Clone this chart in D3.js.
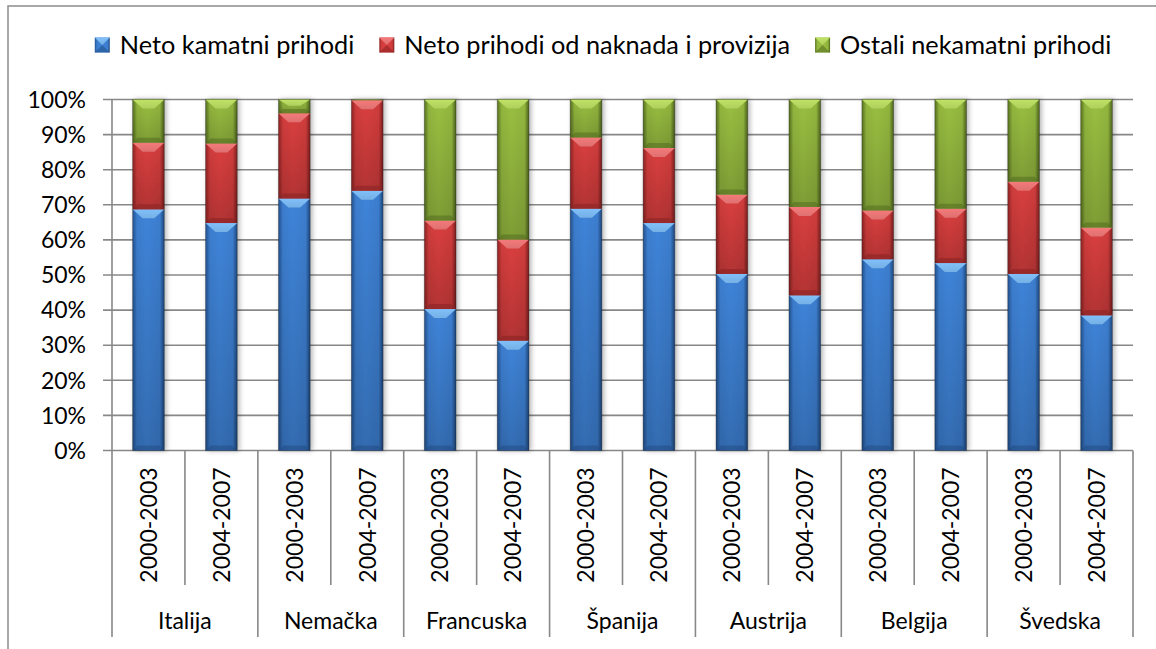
<!DOCTYPE html>
<html>
<head>
<meta charset="utf-8">
<script src="https://cdn.jsdelivr.net/npm/d3@7"></script>
<style>
  body { margin: 0; background: #fff; }
  svg text { font-family: Lato, "Open Sans", sans-serif; fill: #000; }
</style>
</head>
<body>
<div id="chart"></div>
<script>
// data (percent shares)
var countries = ["Italija", "Nemačka", "Francuska", "Španija", "Austrija", "Belgija", "Švedska"];
var periods = ["2000-2003", "2004-2007"];
var seriesNames = ["Neto kamatni prihodi", "Neto prihodi od naknada i provizija", "Ostali nekamatni prihodi"];
var netoKamatni = [68.7, 64.8, 71.8, 74.0, 40.3, 31.3, 68.9, 64.8, 50.3, 44.2, 54.5, 53.4, 50.3, 38.5];
var naknade     = [19.0, 22.7, 24.3, 25.8, 25.2, 28.8, 20.3, 21.4, 22.6, 25.2, 13.9, 15.5, 26.3, 25.0];
var ostali      = [12.3, 12.5, 3.9, 0.2, 34.5, 39.9, 10.8, 13.8, 27.1, 30.6, 31.6, 31.1, 23.4, 36.5];
var yTicks = [0, 0.1, 0.2, 0.3, 0.4, 0.5, 0.6, 0.7, 0.8, 0.9, 1];

var W = 1156, H = 649;
var plotLeft = 112, plotRight = 1133, plotTop = 99.5, plotBottom = 450.5;
var axisFont = 23, legendFont = 25.3;

// colour sets: edge, mid, light (bevel)
var palette = [
    {edge: "#22508c", mid: "#3c7dce", hi: "#80c0fa", key: "b"},
    {edge: "#8e2323", mid: "#d03c3c", hi: "#f47a7a", key: "r"},
    {edge: "#56701f", mid: "#92b63e", hi: "#bfe266", key: "g"}
];

// build rows for d3.stack
var rows = [];
countries.forEach(function(c, ci) {
    periods.forEach(function(p, pi) {
        var i = ci * 2 + pi;
        rows.push({id: c + "|" + p, country: c, period: p, s0: netoKamatni[i], s1: naknade[i], s2: ostali[i]});
    });
});
var stacked = d3.stack().keys(["s0", "s1", "s2"]).offset(d3.stackOffsetExpand)(rows);

var svg = d3.select("#chart").append("svg")
    .attr("width", W).attr("height", H);

var defs = svg.append("defs");
palette.forEach(function(c) {
    var g = defs.append("linearGradient").attr("id", "body-" + c.key)
        .attr("x1", 0).attr("x2", 1).attr("y1", 0).attr("y2", 0);
    g.append("stop").attr("offset", "0%").attr("stop-color", c.edge);
    g.append("stop").attr("offset", "14%").attr("stop-color", c.mid);
    g.append("stop").attr("offset", "45%").attr("stop-color", d3.color(c.mid).brighter(0.15));
    g.append("stop").attr("offset", "86%").attr("stop-color", c.mid);
    g.append("stop").attr("offset", "100%").attr("stop-color", d3.color(c.edge).darker(0.4));
    var t = defs.append("linearGradient").attr("id", "top-" + c.key)
        .attr("x1", 0).attr("x2", 0).attr("y1", 0).attr("y2", 1);
    t.append("stop").attr("offset", "0%").attr("stop-color", c.hi);
    t.append("stop").attr("offset", "100%").attr("stop-color", d3.color(c.hi).darker(0.25));
});
var shade = defs.append("linearGradient").attr("id", "shade")
    .attr("x1", 0).attr("x2", 0).attr("y1", 0).attr("y2", 1);
shade.append("stop").attr("offset", "0%").attr("stop-color", "#000").attr("stop-opacity", 0);
shade.append("stop").attr("offset", "100%").attr("stop-color", "#000").attr("stop-opacity", 0.18);
var f = defs.append("filter").attr("id", "shadow")
    .attr("x", "-50%").attr("width", "200%").attr("y", "-5%").attr("height", "110%");
f.append("feDropShadow").attr("dx", 2).attr("dy", 0).attr("stdDeviation", 2.5)
    .attr("flood-color", "#000").attr("flood-opacity", 0.3);

// chart border (cut by the picture edge on right/bottom)
svg.append("rect").attr("x", 8).attr("y", 6).attr("width", W).attr("height", H)
    .attr("fill", "none").attr("stroke", "#8c8c8c").attr("stroke-width", 1.5);

var x = d3.scaleBand().domain(rows.map(function(d) { return d.id; }))
    .range([plotLeft, plotRight]).paddingInner(0.565).paddingOuter(0.2825);
var y = d3.scaleLinear().domain([0, 1]).range([plotBottom, plotTop]);
var step = x.step();
var bw = x.bandwidth();

// gridlines + value axis
var grid = svg.append("g");
grid.selectAll("line").data(yTicks).enter().append("line")
    .attr("x1", plotLeft - 9).attr("x2", plotRight)
    .attr("y1", function(d) { return y(d); }).attr("y2", function(d) { return y(d); })
    .attr("stroke", "#888").attr("stroke-width", 1.6);
grid.selectAll("text").data(yTicks).enter().append("text")
    .attr("x", 86).attr("y", function(d) { return y(d); }).attr("dy", "0.36em")
    .attr("text-anchor", "end").attr("font-size", axisFont)
    .text(d3.format(".0%"));
svg.append("line").attr("x1", plotLeft).attr("x2", plotLeft).attr("y1", plotTop).attr("y2", plotBottom)
    .attr("stroke", "#888").attr("stroke-width", 1.6);

// bars
function segment(g, d, c) {
    var x0 = x(d.data.id), y0 = y(d[1]), y1 = y(d[0]);
    var h = y1 - y0;
    if (h <= 0) return;
    g.append("rect").attr("x", x0).attr("y", y0).attr("width", bw).attr("height", h)
        .attr("fill", "url(#body-" + c.key + ")");
    g.append("rect").attr("x", x0).attr("y", y0).attr("width", bw).attr("height", h)
        .attr("fill", "url(#shade)");
    var dv = Math.min(9, h * 0.45), dx = Math.min(10, bw / 2 - 3);
    g.append("path")
        .attr("d", "M" + x0 + "," + y0 + "H" + (x0 + bw) + "L" + (x0 + bw - dx) + "," + (y0 + dv) +
            "H" + (x0 + dx) + "Z")
        .attr("fill", "url(#top-" + c.key + ")");
    var db = Math.min(5, h * 0.3);
    g.append("path")
        .attr("d", "M" + x0 + "," + y1 + "H" + (x0 + bw) + "L" + (x0 + bw - db) + "," + (y1 - db) +
            "H" + (x0 + db) + "Z")
        .attr("fill", d3.color(c.edge).darker(0.2)).attr("opacity", 0.5);
}

var barG = svg.append("g");
rows.forEach(function(r, i) {
    var g = barG.append("g").attr("filter", "url(#shadow)");
    stacked.forEach(function(s, si) { segment(g, s[i], palette[si]); });
    g.append("rect").attr("x", x(r.id)).attr("y", y(1)).attr("width", bw).attr("height", y(0) - y(1))
        .attr("fill", "none").attr("stroke", "#1e1e1e").attr("stroke-opacity", 0.35).attr("stroke-width", 0.8);
});

// category axis (two levels)
var catG = svg.append("g");
d3.range(rows.length + 1).forEach(function(i) {
    var xx = plotLeft + i * step;
    catG.append("line").attr("x1", xx).attr("x2", xx).attr("y1", plotBottom)
        .attr("y2", i % 2 === 0 ? 637 : 585)
        .attr("stroke", "#888").attr("stroke-width", 1.6);
});
catG.selectAll("text.period").data(rows).enter().append("text")
    .attr("class", "period")
    .attr("transform", function(d) { return "translate(" + (x(d.id) + bw / 2) + ",525) rotate(-90)"; })
    .attr("dy", "0.36em").attr("text-anchor", "middle").attr("font-size", axisFont)
    .text(function(d) { return d.period; });
catG.selectAll("text.country").data(countries).enter().append("text")
    .attr("class", "country")
    .attr("x", function(d, i) { return plotLeft + step * (2 * i + 1); })
    .attr("y", 621).attr("dy", "0.36em").attr("text-anchor", "middle").attr("font-size", axisFont)
    .text(function(d) { return d; });

// legend
var leg = svg.append("g");
var items = seriesNames.map(function(n, i) {
    var g = leg.append("g");
    var m = g.append("g");
    m.append("rect").attr("x", 0).attr("y", -7.5).attr("width", 15).attr("height", 15)
        .attr("fill", "url(#body-" + palette[i].key + ")");
    m.append("path").attr("d", "M0,-7.5H15L7.5,0Z").attr("fill", "url(#top-" + palette[i].key + ")");
    m.append("path").attr("d", "M0,7.5H15L7.5,0Z").attr("fill", palette[i].edge).attr("opacity", 0.6);
    var t = g.append("text").attr("x", 25).attr("dy", "0.36em").attr("font-size", legendFont).text(n);
    return {g: g, w: 25 + t.node().getComputedTextLength()};
});
var gap = 25;
var total = d3.sum(items, function(d) { return d.w; }) + gap * (items.length - 1);
var lx = 603 - total / 2;
items.forEach(function(it) {
    it.g.attr("transform", "translate(" + lx + ",45)");
    lx += it.w + gap;
});
</script>
</body>
</html>
